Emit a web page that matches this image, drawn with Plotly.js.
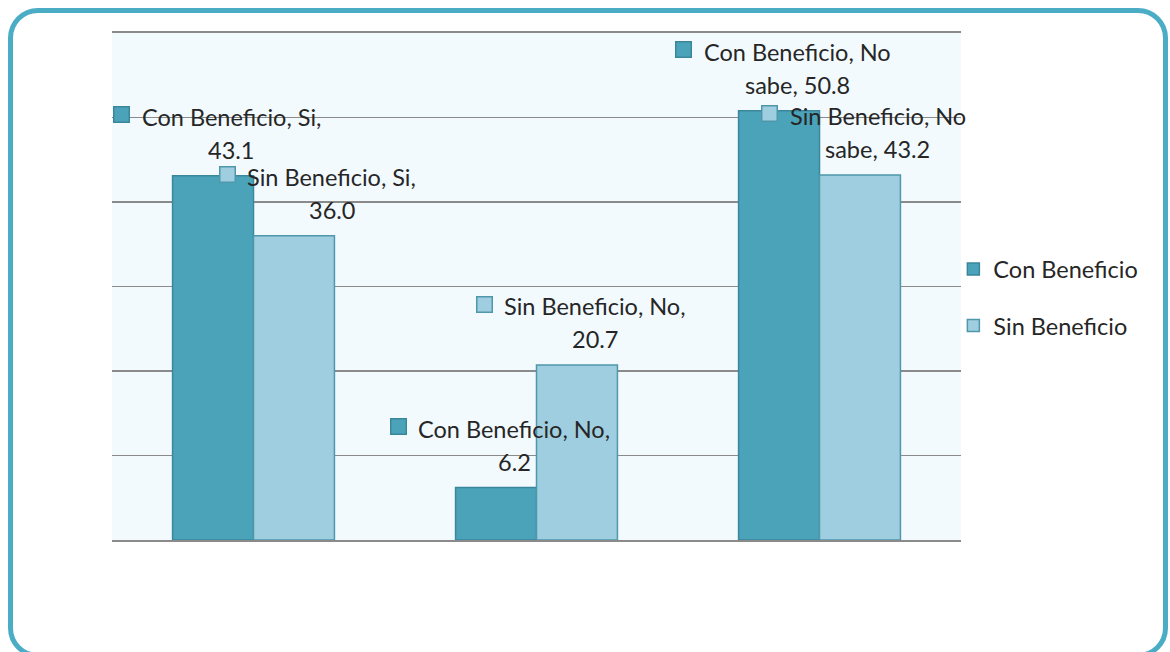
<!DOCTYPE html>
<html>
<head>
<meta charset="utf-8">
<script src="https://cdn.plot.ly/plotly-3.0.1.min.js"></script>
<style>
  html, body { margin: 0; padding: 0; background: #ffffff; }
  #frame { position: absolute; left: 8px; top: 8px; width: 1150px; height: 640px;
           border: 5px solid #4bacc6; border-radius: 30px; }
  #chart { position: absolute; left: 0; top: 0; width: 1170px; height: 652px; }
</style>
</head>
<body>
<div id="frame"></div>
<div id="chart"></div>
<script>
// ---- data ----
const categories = ['Si', 'No', 'No sabe'];
const conBeneficio = [43.1, 6.2, 50.8];
const sinBeneficio = [36.0, 20.7, 43.2];
const seriesNames = ['Con Beneficio', 'Sin Beneficio'];

// ---- style / layout constants ----
const FONT = 'Lato, "Open Sans", sans-serif';
const FS = 23.5;
const TEXT_COLOR = '#262626';
const fills = ['#4ba3ba', '#9fcee0'];
const lines = ['#3a879c', '#4f97ab'];
const M = { l: 112, r: 209, t: 33, b: 112, autoexpand: false };
const W = 1170, H = 652;
const BARGAP = 0.428;
// label placement (px offset of text centre from bar centre), per series per category
const labelDx = [[18, 18, 18], [38, 18, 18]];

const plotW = W - M.l - M.r;
const catW = plotW / categories.length;
const barW = catW * (1 - BARGAP) / 2;

const ctx = document.createElement('canvas').getContext('2d');
ctx.font = FS + 'px Lato';

const seriesVals = [conBeneficio, sinBeneficio];
const traces = seriesVals.map((vals, s) => ({
  type: 'bar', name: seriesNames[s], x: categories, y: vals,
  legendgroup: 'g' + s,
  marker: { color: fills[s], line: { color: lines[s], width: 1.5 } },
  hoverinfo: 'none'
}));

const annotations = [];
seriesVals.forEach((vals, s) => {
  vals.forEach((v, i) => {
    const words = (seriesNames[s] + ', ' + categories[i] + ', ' + v.toFixed(1)).split(' ');
    const l1 = words.slice(0, 3).join(' ');
    const l2 = words.slice(3).join(' ');
    const cx = (s === 0 ? -barW / 2 : barW / 2) + labelDx[s][i];
    const base = { x: categories[i], y: v, xref: 'x', yref: 'y', showarrow: false,
                   xanchor: 'center', yanchor: 'middle',
                   font: { family: FONT, size: FS, color: TEXT_COLOR } };
    annotations.push(Object.assign({}, base, { text: l1, xshift: cx, yshift: 59 }));
    annotations.push(Object.assign({}, base, { text: l2, xshift: cx, yshift: 26 }));
    const tw = ctx.measureText(l1).width;
    annotations.push({ x: categories[i], y: v, xref: 'x', yref: 'y', showarrow: false,
      text: ' ', font: { size: 1 }, width: 14, height: 14,
      bgcolor: fills[s], bordercolor: lines[s], borderwidth: 1.5, borderpad: 0,
      xanchor: 'center', yanchor: 'middle',
      xshift: cx - tw / 2 - 20, yshift: 61 });
  });
});

const layout = {
  width: W, height: H,
  margin: M,
  paper_bgcolor: 'rgba(0,0,0,0)',
  plot_bgcolor: '#f3fafe',
  barmode: 'group', bargap: BARGAP, bargroupgap: 0,
  showlegend: true,
  legend: { x: 0.991, xanchor: 'left', y: 0.478, yanchor: 'middle',
            font: { family: FONT, size: FS, color: TEXT_COLOR },
            tracegroupgap: 23, bgcolor: 'rgba(0,0,0,0)' },
  xaxis: { range: [-0.5, categories.length - 0.5], showticklabels: false, ticks: '',
           showgrid: false, zeroline: false,
           showline: true, mirror: true, linecolor: '#8a8a8a', linewidth: 2.2 },
  yaxis: { range: [0, 60], dtick: 10, showticklabels: false, ticks: '',
           showgrid: true, gridcolor: '#8a8a8a', gridwidth: 1.8,
           zeroline: false, showline: false },
  annotations: annotations
};

Plotly.newPlot('chart', traces, layout, { displayModeBar: false, staticPlot: true });
</script>
</body>
</html>
